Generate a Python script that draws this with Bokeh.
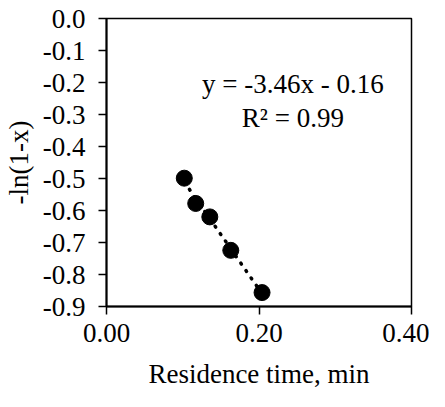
import numpy as np
from bokeh.plotting import figure
from bokeh.models import FixedTicker, ColumnDataSource
from bokeh.core.properties import value
from bokeh.embed import file_html
from bokeh.resources import INLINE

# Data
res_time = [0.102, 0.117, 0.1355, 0.163, 0.204]
neg_ln = [-0.499, -0.578, -0.620, -0.7245, -0.8565]

x_ticks = [0.0, 0.2, 0.4]
x_tick_labels = ["0.00", "0.20", "0.40"]
y_ticks = [0.0, -0.1, -0.2, -0.3, -0.4, -0.5, -0.6, -0.7, -0.8, -0.9]
y_tick_labels = ["0.0", "-0.1", "-0.2", "-0.3", "-0.4", "-0.5", "-0.6", "-0.7", "-0.8", "-0.9"]

eq_text = ["y = -3.46x - 0.16", "R\u00b2 = 0.99"]
eq_x = [0.2444, 0.2444]
eq_y = [-0.2037, -0.310]

FONT = "Liberation Serif"
FS = "27px"

p = figure(width=429, height=391, x_range=(0, 0.4), y_range=(-0.9, 0.0),
           output_backend="svg", toolbar_location=None,
           min_border_left=105, min_border_right=18, min_border_top=18, min_border_bottom=77)

p.xgrid.visible = False
p.ygrid.visible = False
p.outline_line_color = "black"
p.outline_line_width = 1.5
p.background_fill_color = "white"

p.xaxis.ticker = FixedTicker(ticks=x_ticks)
p.yaxis.ticker = FixedTicker(ticks=y_ticks)
p.xaxis.major_label_overrides = {t: l for t, l in zip(x_ticks, x_tick_labels)}
p.yaxis.major_label_overrides = {t: l for t, l in zip(y_ticks, y_tick_labels)}

for ax in (p.xaxis[0], p.yaxis[0]):
    ax.axis_line_color = "black"
    ax.axis_line_width = 2
    ax.major_tick_line_color = "black"
    ax.major_tick_line_width = 1.5
    ax.major_tick_out = 8
    ax.major_tick_in = 0
    ax.minor_tick_line_color = None
    ax.major_label_text_font = FONT
    ax.major_label_text_font_size = FS
    ax.major_label_text_color = "black"
    ax.axis_label_text_font = FONT
    ax.axis_label_text_font_size = FS
    ax.axis_label_text_font_style = "normal"
    ax.axis_label_text_color = "black"

p.xaxis.axis_label = "Residence time, min"
p.yaxis.axis_label = "-ln(1-x)"
p.yaxis.major_label_standoff = 13
p.xaxis.major_label_standoff = 9
p.xaxis.axis_label_standoff = 14
p.yaxis.axis_label_standoff = 6

# Linear trendline fitted to the points
xs = np.array(res_time)
slope, intercept = np.polyfit(xs, np.array(neg_ln), 1)
tx = [xs.min(), xs.max()]
ty = [slope * v + intercept for v in tx]
p.line(tx, ty, line_color="black", line_width=3.5, line_dash="1 8", line_cap="round")

p.scatter(res_time, neg_ln, size=16, fill_color="black", line_color="black")

src = ColumnDataSource(dict(x=eq_x, y=eq_y, t=eq_text))
p.text(x="x", y="y", text="t", source=src, text_font=value(FONT), text_font_size=FS,
       text_align="center", text_baseline="alphabetic", text_color="black")

open("out.html", "w").write(file_html(p, INLINE))
